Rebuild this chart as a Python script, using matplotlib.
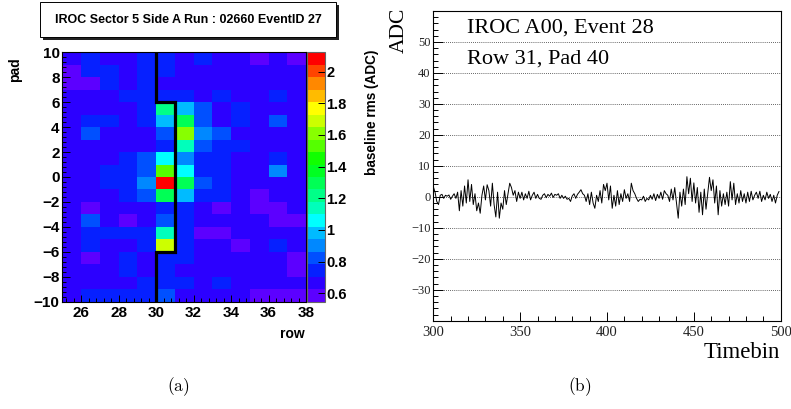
import numpy as np
import matplotlib
matplotlib.use("Agg")
import matplotlib.pyplot as plt
from matplotlib.colors import ListedColormap, BoundaryNorm
from matplotlib.patches import Rectangle
from matplotlib.ticker import MultipleLocator, FixedLocator

# ---------------- data ----------------
row_edges = np.arange(25, 39)          # pad-row bins (x)
pad_edges = np.arange(-10, 11)         # pad bins (y)
# baseline rms, listed from pad 9 (top) down to pad -10, columns row 25..37
rms_top_to_bottom = [
    [0.67, 0.74, 0.67, 0.67, 0.74, 0.74, 0.67, 0.74, 0.67, 0.67, 0.59, 0.67, 0.59],
    [0.59, 0.74, 0.74, 0.67, 0.74, 0.74, 0.67, 0.67, 0.67, 0.67, 0.67, 0.67, 0.67],
    [0.59, 0.59, 0.74, 0.67, 0.74, 0.67, 0.67, 0.67, 0.67, 0.67, 0.67, 0.67, 0.67],
    [0.67, 0.67, 0.67, 0.74, 0.74, 0.74, 0.74, 0.67, 0.74, 0.67, 0.67, 0.74, 0.67],
    [0.67, 0.67, 0.67, 0.67, 0.74, 1.22, 0.98, 0.82, 0.67, 0.74, 0.67, 0.67, 0.67],
    [0.67, 0.74, 0.74, 0.67, 0.74, 0.98, 1.30, 0.82, 0.67, 0.74, 0.67, 0.84, 0.67],
    [0.67, 0.84, 0.67, 0.67, 0.67, 0.82, 1.61, 0.90, 0.82, 0.67, 0.67, 0.67, 0.67],
    [0.67, 0.67, 0.67, 0.67, 0.67, 0.74, 1.14, 0.82, 0.74, 0.74, 0.67, 0.67, 0.67],
    [0.67, 0.67, 0.67, 0.74, 0.82, 1.06, 0.90, 0.74, 0.74, 0.67, 0.67, 0.74, 0.67],
    [0.67, 0.67, 0.74, 0.74, 0.82, 1.55, 1.06, 0.74, 0.74, 0.67, 0.67, 0.90, 0.67],
    [0.67, 0.67, 0.74, 0.74, 0.90, 2.08, 1.30, 0.82, 0.74, 0.67, 0.67, 0.67, 0.67],
    [0.67, 0.67, 0.67, 0.74, 0.82, 1.30, 0.98, 0.74, 0.74, 0.67, 0.59, 0.67, 0.67],
    [0.67, 0.59, 0.67, 0.67, 0.67, 0.74, 0.74, 0.67, 0.59, 0.67, 0.59, 0.59, 0.67],
    [0.67, 0.82, 0.67, 0.59, 0.67, 0.82, 0.74, 0.67, 0.67, 0.67, 0.67, 0.59, 0.59],
    [0.67, 0.74, 0.74, 0.74, 0.74, 1.14, 0.74, 0.59, 0.59, 0.67, 0.67, 0.67, 0.67],
    [0.67, 0.74, 0.67, 0.67, 0.74, 1.69, 0.74, 0.67, 0.67, 0.59, 0.67, 0.74, 0.67],
    [0.67, 0.59, 0.67, 0.74, 0.67, 0.74, 0.74, 0.67, 0.67, 0.67, 0.67, 0.67, 0.59],
    [0.67, 0.67, 0.67, 0.74, 0.67, 0.74, 0.67, 0.67, 0.67, 0.67, 0.67, 0.67, 0.59],
    [0.67, 0.67, 0.67, 0.67, 0.74, 0.74, 0.74, 0.67, 0.74, 0.67, 0.67, 0.67, 0.67],
    [0.67, 0.74, 0.74, 0.74, 0.74, 0.82, 0.67, 0.67, 0.67, 0.67, 0.59, 0.59, 0.59],
]
# sector boundary drawn on the map
boundary_row = [30, 30, 31, 31, 30, 30]
boundary_pad = [10, 6, 6, -6, -6, -10]
cbar_min, cbar_max = 0.547, 2.122
cbar_ticks = [0.6, 0.8, 1.0, 1.2, 1.4, 1.6, 1.8, 2.0]
cbar_ticklabels = ["0.6", "0.8", "1", "1.2", "1.4", "1.6", "1.8", "2"]

# ADC signal, timebins 300..499
timebins = np.arange(300, 500)
adc = [
    3.3, 1.5, -1.5, -2.5, 0.5, 0.8, -0.5, 0.5, 0.2, 0.6,
    -0.8, 0.2, 1.0, -0.5, 1.5, -4.5, 2.0, -3.0, 3.5, -2.0,
    5.5, -1.5, 4.0, -2.5, 1.0, -4.5, -2.0, -5.3, 0.5, 3.5,
    -1.0, 3.9, 2.0, -3.0, 4.4, -2.5, -6.5, 1.5, -6.9, -2.0,
    -4.0, 2.0, -2.5, 1.0, 4.4, 3.0, 0.5, 2.0, -1.5, 1.5,
    -0.5, 1.5, -1.0, 1.0, -0.5, 1.8, -1.0, 0.5, 1.5, -0.5,
    0.8, -0.5, -0.8, 0.5, 1.0, -0.3, 0.8, 0.2, 1.2, -0.2,
    0.8, 0.5, 1.0, -0.5, 0.5, -0.5, 0.2, -0.8, -0.5, -1.5,
    0.3, 1.0, -0.5, 0.8, 1.5, 2.3, 1.0, 0.5, -1.5, 1.0,
    -2.5, 1.5, -2.0, -3.7, 0.5, -1.5, 2.0, -2.0, 4.0, 2.0,
    4.4, -1.0, 3.5, -3.7, 0.5, -3.0, 2.0, -2.5, 1.0, -1.5,
    2.3, -0.5, 1.0, -1.5, 4.4, 2.0, 1.0, -0.5, -1.5, -0.8,
    -1.0, 0.2, -1.5, -0.5, -1.0, 0.5, -0.8, 1.0, -1.2, 0.8,
    -0.5, 1.5, -0.8, 2.0, 1.0, 0.5, -1.5, 2.5, -1.0, 3.0,
    -2.0, -6.9, 1.5, -3.0, 2.5, -2.5, 6.5, 1.0, 6.0, -1.5,
    4.5, -2.0, 3.0, -5.0, 1.5, -5.8, 2.5, -4.0, 1.0, 6.3,
    2.0, 5.5, -2.0, 3.5, -5.8, 2.0, -3.0, 1.0, -2.5, 1.5,
    -3.0, 4.9, -1.0, 4.4, -2.5, 1.0, -2.0, 2.0, -1.5, 1.0,
    -2.0, 1.5, -1.5, 1.8, -1.0, 0.5, 1.5, -0.5, 1.8, -1.5,
    0.5, -1.0, 1.5, -0.5, 0.8, -1.5, 0.5, -2.0, 0.5, 1.7,
]
adc_yticks = [-30, -20, -10, 0, 10, 20, 30, 40, 50]
time_xticks = [300, 350, 400, 450, 500]

# ---------------- layout helpers ----------------
W, H = 791, 409
fig = plt.figure(figsize=(W / 100, H / 100), dpi=100)
fig.patch.set_facecolor("white")


def rect(x0, y0, x1, y1):
    return [x0 / W, 1 - y1 / H, (x1 - x0) / W, (y1 - y0) / H]


def fx(x):
    return x / W


def fy(y):
    return 1 - y / H


SANS = "Liberation Sans"
SERIF = "Liberation Serif"

# ---------------- left panel: heat map ----------------
palette = ['#5c00ff', '#2c00ff', '#0620ff', '#0050ff', '#0088ff', '#00bbff',
           '#00ffff', '#00ffbb', '#00ff88', '#00ff55', '#00ff22', '#11ff00',
           '#55ff00', '#88ff00', '#ccff00', '#ffff00', '#ffbb00', '#ff8800',
           '#ff4400', '#ff0000']
cmap = ListedColormap(palette)
levels = np.linspace(cbar_min, cbar_max, len(palette) + 1)
norm = BoundaryNorm(levels, cmap.N)

rms = np.array(rms_top_to_bottom)[::-1]   # bottom (pad -10) first

ax1 = fig.add_axes(rect(62.3, 52.3, 306.0, 301.7))
mesh = ax1.pcolormesh(row_edges, pad_edges, rms, cmap=cmap, norm=norm)
ax1.plot(boundary_row, boundary_pad, color="black", lw=2.3,
         solid_joinstyle="miter", zorder=3)
ax1.set_xlim(row_edges[0], row_edges[-1])
ax1.set_ylim(pad_edges[0], pad_edges[-1])
ax1.xaxis.set_major_locator(FixedLocator([26, 28, 30, 32, 34, 36, 38]))
ax1.xaxis.set_minor_locator(MultipleLocator(0.4))
ax1.yaxis.set_major_locator(MultipleLocator(2))
ax1.yaxis.set_minor_locator(MultipleLocator(0.4))
ax1.tick_params(which="both", direction="in", top=False, right=False,
                width=0.7, labelsize=11)
ax1.tick_params(which="major", length=5.4)
ax1.tick_params(which="minor", length=2.7)
ax1.tick_params(axis="y", pad=2)
ax1.tick_params(axis="x", pad=3)
for lbl in ax1.get_xticklabels() + ax1.get_yticklabels():
    lbl.set_fontfamily(SANS)
    lbl.set_fontweight("bold")
for s in ax1.spines.values():
    s.set_linewidth(0.8)

cax = fig.add_axes(rect(306.5, 52.3, 324.5, 301.7))
cb = fig.colorbar(mesh, cax=cax, ticks=cbar_ticks)
cb.ax.set_yticklabels(cbar_ticklabels)
cb.ax.tick_params(direction="in", length=5.0, width=0.7, pad=1.5,
                  labelsize=10.5)
cb.ax.minorticks_off()
for lbl in cb.ax.get_yticklabels():
    lbl.set_fontfamily(SANS)
    lbl.set_fontweight("bold")
cb.outline.set_linewidth(0.8)
cb.outline.set_edgecolor("#666666")

fig.text(fx(372), fy(50), "baseline rms (ADC)", rotation=90, ha="center",
         va="top", fontsize=9.8, fontweight="bold", family=SANS)
fig.text(fx(15), fy(57), "pad", rotation=90, ha="center", va="top",
         fontsize=10, fontweight="bold", family=SANS)
fig.text(fx(305), fy(334), "row", ha="right", va="center",
         fontsize=10, fontweight="bold", family=SANS)

# title box with shadow
fig.patches.append(Rectangle((fx(42.5), fy(39.5)), (338.5 - 42.5) / W,
                             (39.5 - 4.5) / H, transform=fig.transFigure,
                             facecolor="#222222", edgecolor="none", zorder=1))
fig.patches.append(Rectangle((fx(40), fy(37)), (336 - 40) / W, (37 - 2) / H,
                             transform=fig.transFigure, facecolor="white",
                             edgecolor="black", lw=0.7, zorder=2))
fig.text(fx(188), fy(20), "IROC Sector 5 Side A Run : 02660 EventID 27",
         ha="center", va="center", fontsize=9, fontweight="bold",
         family=SANS, zorder=3)

# ---------------- right panel: ADC trace ----------------
ax2 = fig.add_axes(rect(433.3, 11.0, 780.7, 320.7))
ax2.plot(timebins, adc, color="black", lw=0.7, zorder=3)
ax2.set_xlim(300, 500)
ax2.set_ylim(-40, 60)
ax2.xaxis.set_major_locator(FixedLocator(time_xticks))
ax2.xaxis.set_minor_locator(MultipleLocator(10))
ax2.yaxis.set_major_locator(FixedLocator(adc_yticks))
ax2.yaxis.set_minor_locator(MultipleLocator(2))
ax2.yaxis.grid(True, which="major", linestyle=(0, (1, 1.5)), color="#333333",
               lw=0.6)
ax2.set_axisbelow(True)
ax2.tick_params(which="both", direction="in", top=False, right=False,
                width=0.7)
ax2.tick_params(axis="y", which="major", length=7.5, labelsize=9, pad=2,
                labelcolor="#222222")
ax2.tick_params(axis="y", which="minor", length=3.7)
ax2.tick_params(axis="x", which="major", length=6.7, labelsize=10.5, pad=4,
                labelcolor="#222222")
ax2.tick_params(axis="x", which="minor", length=3.3)
for lbl in ax2.get_xticklabels() + ax2.get_yticklabels():
    lbl.set_fontfamily(SERIF)
for s in ax2.spines.values():
    s.set_linewidth(0.8)

fig.text(fx(466.7), fy(33), "IROC A00, Event 28", ha="left",
         va="baseline", fontsize=16, family=SERIF)
fig.text(fx(466.7), fy(64), "Row 31, Pad 40", ha="left",
         va="baseline", fontsize=16, family=SERIF)
fig.text(fx(399), fy(8), "ADC", rotation=90, ha="center", va="top",
         fontsize=15.5, family=SERIF)
fig.text(fx(780), fy(358), "Timebin", ha="right", va="baseline",
         fontsize=16.5, family=SERIF)

# captions
plt.rcParams["mathtext.fontset"] = "cm"
fig.text(fx(178), fy(387), r"$\mathrm{(a)}$", ha="center", va="center",
         fontsize=12.5)
fig.text(fx(580), fy(387), r"$\mathrm{(b)}$", ha="center", va="center",
         fontsize=12.5)

fig.savefig("out.png", dpi=100)
